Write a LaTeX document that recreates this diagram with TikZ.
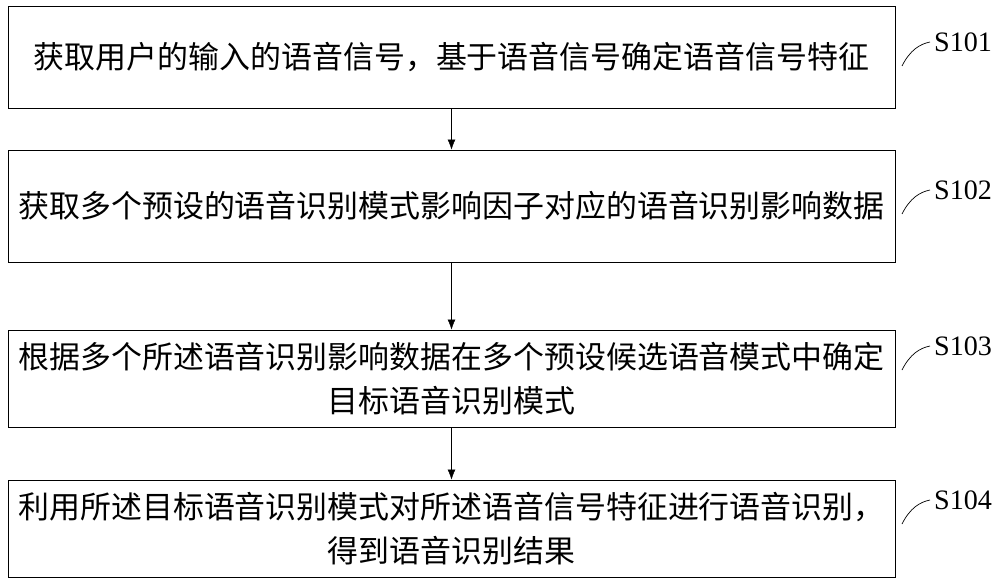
\documentclass[tikz,border=0pt]{standalone}
\usepackage{fontspec}
\setmainfont{Liberation Serif}
\newfontfamily\cjk{Noto Sans CJK SC}
\usetikzlibrary{positioning,arrows.meta}

\begin{document}
\begin{tikzpicture}[x=0.03cm,y=-0.03cm,
    stepbox/.style={draw,line width=0.8pt,minimum width=26.61cm,align=center,
        font=\cjk\fontsize{26.4}{38}\selectfont,inner sep=0pt},
    steplabel/.style={font=\fontsize{24}{28}\selectfont,anchor=west}]
        % Fix the page size
        \useasboundingbox (0,0) rectangle (1000,583);

        % Steps
        \node[stepbox,minimum height=3.06cm] (s1) at (451.5,57) {获取用户的输入的语音信号，基于语音信号确定语音信号特征};
        \node[stepbox,minimum height=3.36cm] (s2) at (451.5,206) {获取多个预设的语音识别模式影响因子对应的语音识别影响数据};
        \node[stepbox,minimum height=2.91cm] (s3) at (451.5,378.5) {根据多个所述语音识别影响数据在多个预设候选语音模式中确定\\目标语音识别模式};
        \node[stepbox,minimum height=2.91cm] (s4) at (451.5,528.5) {利用所述目标语音识别模式对所述语音信号特征进行语音识别，\\得到语音识别结果};

        % Arrows between steps
        \draw[-{Latex[length=3mm,width=2.4mm]}] (s1) -- (s2);
        \draw[-{Latex[length=3mm,width=2.4mm]}] (s2) -- (s3);
        \draw[-{Latex[length=3mm,width=2.4mm]}] (s3) -- (s4);

        % Step labels
        \foreach \n/\y in {1/42,2/190,3/346,4/500} {
            \node[steplabel] (l\n) at (930,\y) {S10\n};
            \draw[line width=0.6pt] (902,\y+24) .. controls (910,\y+8) and (920,\y+2) .. (l\n.west);
        }
    \end{tikzpicture}
\end{document}
